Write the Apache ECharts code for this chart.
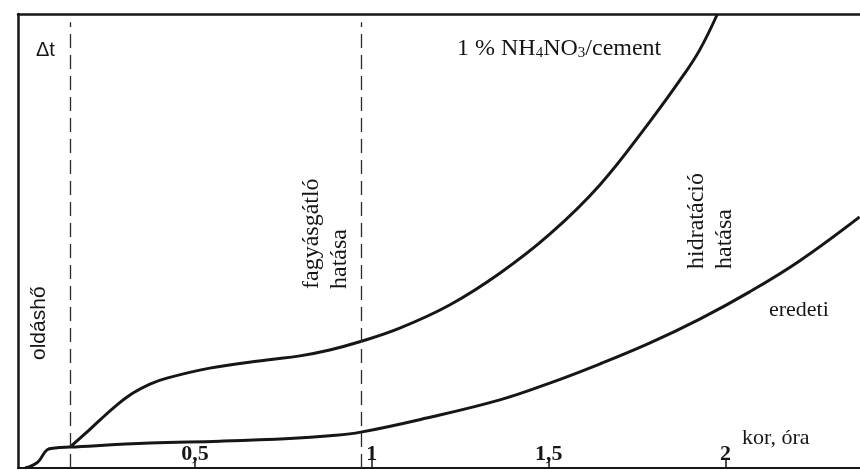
<!DOCTYPE html>
<html>
<head>
<meta charset="utf-8">
<script src="https://cdn.jsdelivr.net/npm/echarts@6/dist/echarts.min.js"></script>
<style>
html,body{margin:0;padding:0;background:#fff;}
#main{width:860px;height:470px;}
</style>
</head>
<body>
<div id="main"></div>
<script>
// age, hours (x) and relative Δt (y, arbitrary units 0-100)
var eredetiX = [0.02, 0.056, 0.082, 0.105, 0.147, 0.373, 0.571, 0.768, 0.881, 0.969, 1.155, 1.362, 1.503, 1.644, 1.785, 1.927, 2.068, 2.209, 2.379];
var eredetiY = [0, 1.3, 4.0, 4.4, 4.6, 5.5, 5.9, 6.5, 7.1, 7.9, 11.0, 15.0, 18.7, 22.9, 27.5, 32.8, 38.8, 45.6, 55.3];
var nh4X = [0.147, 0.189, 0.232, 0.280, 0.325, 0.373, 0.421, 0.542, 0.703, 0.797, 0.881, 0.966, 1.079, 1.220, 1.362, 1.503, 1.644, 1.785, 1.879, 1.927, 1.977];
var nh4Y = [4.6, 7.5, 10.6, 13.9, 16.5, 18.5, 19.8, 22.0, 23.8, 24.7, 26.0, 27.8, 30.8, 35.9, 42.9, 51.5, 62.3, 76.2, 86.3, 92.1, 100];
var dividerX = [0.147, 0.969];
var dividerTop = 98.2;
var tickValues = [0.5, 1, 1.5, 2];
var tickLabels = ['0,5', '1', '1,5', '2'];

function pairs(xs, ys) { return xs.map(function (x, i) { return [x, ys[i]]; }); }

var ink = '#161616';
var serif = 'Liberation Serif, Times New Roman, serif';
var chart = echarts.init(document.getElementById('main'));
chart.setOption({
  backgroundColor: '#ffffff',
  animation: false,
  grid: { left: 18, right: 0, top: 14, bottom: 2 },
  xAxis: [{
    type: 'value', min: 0, max: 2.38, interval: 0.5,
    axisLine: { show: true, lineStyle: { color: ink, width: 2 } },
    axisTick: { show: true, inside: true, length: 9, lineStyle: { color: ink, width: 1.5 } },
    splitLine: { show: false },
    axisLabel: {
      inside: true, margin: 3, showMinLabel: false, showMaxLabel: false,
      color: ink, fontFamily: serif, fontWeight: 'bold', fontSize: 22,
      formatter: function (v) { var i = tickValues.indexOf(v); return i >= 0 ? tickLabels[i] : ''; }
    }
  }, {
    type: 'value', position: 'top', min: 0, max: 2.38,
    axisLine: { show: true, lineStyle: { color: ink, width: 2.5 } },
    axisTick: { show: false }, axisLabel: { show: false }, splitLine: { show: false }
  }],
  yAxis: {
    type: 'value', min: 0, max: 100,
    axisLine: { show: true, lineStyle: { color: ink, width: 2.5 } },
    axisTick: { show: false }, axisLabel: { show: false }, splitLine: { show: false }
  },
  series: [{
    name: 'eredeti', type: 'line', smooth: 0.4, symbol: 'none',
    data: pairs(eredetiX, eredetiY),
    lineStyle: { color: ink, width: 3 },
    markLine: {
      silent: true, symbol: 'none', label: { show: false },
      lineStyle: { color: '#2a2a2a', width: 1.3, type: [14, 7] },
      data: dividerX.map(function (x) { return [{ coord: [x, 0] }, { coord: [x, dividerTop] }]; })
    }
  }, {
    name: 'NH4NO3', type: 'line', smooth: 0.4, symbol: 'none',
    data: pairs(nh4X, nh4Y),
    lineStyle: { color: ink, width: 3 }
  }],
  graphic: [
    { type: 'text', x: 36, y: 40, style: { text: 'Δt', fill: ink, font: '20px Liberation Sans, Arial, sans-serif', textAlign: 'left', textVerticalAlign: 'top' } },
    { type: 'text', x: 29, y: 360, rotation: Math.PI / 2, style: { text: 'oldáshő', fill: ink, font: '21px Liberation Sans, Arial, sans-serif', textAlign: 'left', textVerticalAlign: 'top' } },
    { type: 'text', x: 298, y: 289, rotation: Math.PI / 2, style: { text: 'fagyásgátló\nhatása', fill: ink, font: '24px ' + serif, lineHeight: 28, textAlign: 'left', textVerticalAlign: 'top' } },
    { type: 'text', x: 683, y: 269, rotation: Math.PI / 2, style: { text: 'hidratáció\nhatása', fill: ink, font: '24px ' + serif, lineHeight: 28, textAlign: 'left', textVerticalAlign: 'top' } },
    { type: 'text', x: 769, y: 321, style: { text: 'eredeti', fill: ink, font: '22px ' + serif, textAlign: 'left', textVerticalAlign: 'bottom' } },
    { type: 'text', x: 742, y: 449, style: { text: 'kor, óra', fill: ink, font: '22px ' + serif, textAlign: 'left', textVerticalAlign: 'bottom' } },
    { type: 'text', x: 457, y: 61, style: {
      text: '{a|1 % NH}{s|4}{a|NO}{s|3}{a|/cement}', textAlign: 'left', textVerticalAlign: 'bottom',
      rich: {
        a: { fontFamily: serif, fontSize: 24, fill: ink, color: ink, verticalAlign: 'bottom' },
        s: { fontFamily: serif, fontSize: 15, fill: ink, color: ink, verticalAlign: 'bottom' }
      }
    } }
  ]
});
</script>
</body>
</html>
